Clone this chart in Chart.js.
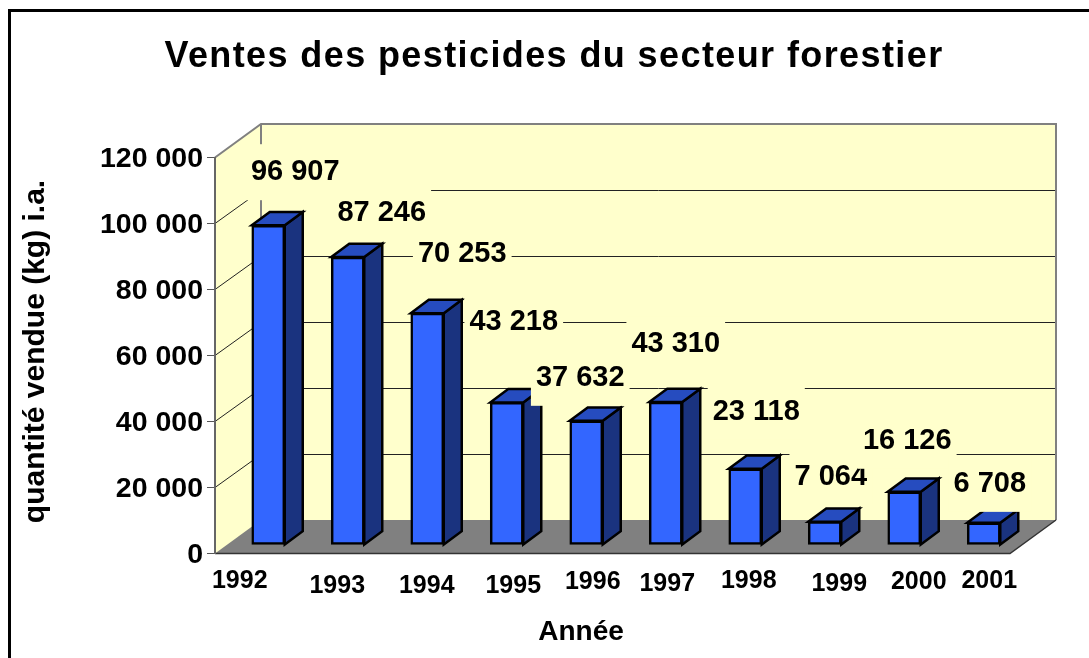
<!DOCTYPE html>
<html>
<head>
<meta charset="utf-8">
<style>
  html, body { margin: 0; padding: 0; background: #fff; }
  canvas { display: block; }
</style>
<script src="https://cdn.jsdelivr.net/npm/chart.js@4/dist/chart.umd.min.js"></script>
</head>
<body>
<canvas id="ventesChart" width="1089" height="658"></canvas>
<script>
    // ===================================
    // DATA
    // ===================================
    const annees = ['1992', '1993', '1994', '1995', '1996', '1997', '1998', '1999', '2000', '2001'];
    const quantites = [96907, 87246, 70253, 43218, 37632, 43310, 23118, 7064, 16126, 6708];
    const titre = 'Ventes des pesticides du secteur forestier';
    const titreY = 'quantité vendue (kg) i.a.';
    const titreX = 'Année';

    // ===================================
    // LAYOUT (hand placed labels, relative to bar / tick)
    // ===================================
    const valeurDx = [27, 34, 35, 7, -6, 10, 11, 6, 3, 6];
    const valeurDy = [-53, -44, -59, -80, -43, -58, -57, -45, -51, -39];
    const anneeDx = [-15, 3, 13, 20, 20, 15, 17, 28, 28, 19];
    const anneeDy = [28, 33, 33, 33, 29, 31, 28, 31, 29, 28];

    const wallColor = '#ffffcc';
    const floorColor = '#808080';
    const depth = { x: 46, y: -33.5 };   // back wall offset
    const barShift = { x: 13.5, y: -8.5 }; // bars stand in the middle of the floor
    const barDepth = { x: 18, y: -13.3 };

    const fmt = v => String(v).replace(/\B(?=(\d{3})+$)/g, ' ');

    // --- walls, floor and gridlines, drawn behind the axes ---
    const wallsPlugin = {
        id: 'walls',
        beforeDraw(chart) {
            const { ctx, chartArea: a, scales: { y } } = chart;
            const bx = a.left + depth.x, rx = a.right + depth.x;
            const dy = depth.y;
            ctx.save();

            // outer frame, only top and left are in the picture
            ctx.fillStyle = '#000';
            ctx.fillRect(8, 9, 1081, 3);
            ctx.fillRect(8, 9, 3, 649);

            ctx.fillStyle = wallColor;
            ctx.beginPath();
            ctx.moveTo(a.left, a.top);
            ctx.lineTo(bx, a.top + dy);
            ctx.lineTo(rx, a.top + dy);
            ctx.lineTo(rx, a.bottom + dy);
            ctx.lineTo(a.left, a.bottom);
            ctx.closePath();
            ctx.fill();

            ctx.fillStyle = floorColor;
            ctx.beginPath();
            ctx.moveTo(a.left, a.bottom);
            ctx.lineTo(bx, a.bottom + dy);
            ctx.lineTo(rx, a.bottom + dy);
            ctx.lineTo(a.right, a.bottom);
            ctx.closePath();
            ctx.fill();

            // gridlines
            ctx.lineWidth = 1;
            ctx.strokeStyle = '#222';
            y.ticks.forEach(t => {
                if (t.value === 0 || t.value === y.max) return;
                const py = y.getPixelForValue(t.value);
                const backY = Math.round(py + dy) + 0.5;
                ctx.beginPath();
                ctx.moveTo(a.left, py);
                ctx.lineTo(bx, backY);
                ctx.lineTo(rx, backY);
                ctx.stroke();
            });

            // wall outline
            ctx.strokeStyle = floorColor;
            ctx.lineWidth = 2;
            ctx.beginPath();
            ctx.moveTo(a.left, a.top);
            ctx.lineTo(bx, a.top + dy);
            ctx.lineTo(rx, a.top + dy);
            ctx.lineTo(rx, a.bottom + dy);
            ctx.moveTo(bx, a.top + dy);
            ctx.lineTo(bx, a.bottom + dy);
            ctx.stroke();

            // front and right edge of the floor
            ctx.strokeStyle = '#333';
            ctx.lineWidth = 1.5;
            ctx.beginPath();
            ctx.moveTo(rx, a.bottom + dy);
            ctx.lineTo(a.right, a.bottom);
            ctx.lineTo(a.left, a.bottom);
            ctx.stroke();
            ctx.restore();
        }
    };

    // --- 3D faces for the bars + value labels with their opaque boxes ---
    const bars3dPlugin = {
        id: 'bars3d',
        beforeDatasetsDraw(chart) {
            chart.ctx.save();
            chart.ctx.translate(barShift.x, barShift.y);
        },
        afterDatasetsDraw(chart) {
            const ctx = chart.ctx;
            const bars = chart.getDatasetMeta(0).data;
            ctx.lineWidth = 2.5;
            ctx.lineJoin = 'miter';
            ctx.strokeStyle = '#000';
            bars.forEach(b => {
                const l = b.x - b.width / 2, r = b.x + b.width / 2;
                // side
                ctx.fillStyle = '#1a337f';
                ctx.beginPath();
                ctx.moveTo(r, b.y);
                ctx.lineTo(r + barDepth.x, b.y + barDepth.y);
                ctx.lineTo(r + barDepth.x, b.base + barDepth.y);
                ctx.lineTo(r, b.base);
                ctx.closePath();
                ctx.fill();
                ctx.stroke();
                // top
                ctx.fillStyle = '#264cbf';
                ctx.beginPath();
                ctx.moveTo(l, b.y);
                ctx.lineTo(l + barDepth.x, b.y + barDepth.y);
                ctx.lineTo(r + barDepth.x, b.y + barDepth.y);
                ctx.lineTo(r, b.y);
                ctx.closePath();
                ctx.fill();
                ctx.stroke();
            });
            ctx.restore();

            // value labels, each one hides what lies behind it
            ctx.save();
            ctx.font = 'bold 29px "Liberation Sans"';
            ctx.textAlign = 'center';
            ctx.textBaseline = 'middle';
            bars.forEach((b, i) => {
                const txt = fmt(quantites[i]);
                const cx = b.x + barShift.x + valeurDx[i];
                const cy = b.y + barShift.y + valeurDy[i];
                const w = ctx.measureText(txt).width + 10;
                ctx.fillStyle = wallColor;
                ctx.fillRect(cx - w / 2, cy - 28, w, 56);
                ctx.fillStyle = '#000';
                ctx.fillText(txt, cx, cy);
            });
            ctx.restore();
        },
        afterDraw(chart) {
            const { ctx, scales: { x }, chartArea: a } = chart;
            ctx.save();
            ctx.fillStyle = '#000';
            ctx.textAlign = 'center';
            ctx.textBaseline = 'middle';
            ctx.font = 'bold 25px "Liberation Sans"';
            annees.forEach((an, i) => {
                ctx.fillText(an, x.getPixelForValue(i) + anneeDx[i], a.bottom + anneeDy[i]);
            });
            ctx.font = 'bold 28px "Liberation Sans"';
            ctx.fillText(titreX, 581, 632);
            // main title: the reference is tracked out a little
            ctx.save();
            ctx.font = 'bold 36px "Liberation Sans"';
            ctx.letterSpacing = '1.4px';
            ctx.textBaseline = 'alphabetic';
            ctx.fillText(titre, 554, 67);
            ctx.restore();
            // y axis title
            ctx.translate(36, 351.5);
            ctx.rotate(-Math.PI / 2);
            ctx.font = 'bold 30px "Liberation Sans"';
            ctx.fillText(titreY, 0, 0);
            ctx.restore();
        }
    };

    // ===================================
    // CHART CONFIG
    // ===================================
    Chart.defaults.font.family = '"Liberation Sans", Arial, sans-serif';
    Chart.defaults.color = '#000';

    const ventesConfig = {
        type: 'bar',
        data: {
            labels: annees,
            datasets: [{
                label: titreY,
                data: quantites,
                backgroundColor: '#3366ff',
                borderColor: '#000',
                borderWidth: 2.5,
                borderSkipped: false,
                barThickness: 33,
                clip: false
            }]
        },
        plugins: [wallsPlugin, bars3dPlugin],
        options: {
            responsive: false,
            animation: false,
            layout: { padding: { right: 79, top: 157.5, left: 0, bottom: 0 } },
            plugins: {
                legend: { display: false },
                tooltip: { enabled: false },
                title: { display: false }
            },
            scales: {
                x: {
                    afterFit(s) { s.height = 104.5; },
                    grid: { display: false },
                    border: { display: false },
                    ticks: { display: false }
                },
                y: {
                    min: 0,
                    max: 120000,
                    afterFit(s) { s.width = 215; },
                    grid: { drawOnChartArea: false, tickLength: 8, tickColor: '#555', lineWidth: 1 },
                    border: { color: '#666', width: 2 },
                    ticks: {
                        stepSize: 20000,
                        padding: 4,
                        labelOffset: 1.5,
                        font: { size: 28.5, weight: 'bold' },
                        callback: v => fmt(v)
                    }
                }
            }
        }
    };

    // --- Render Chart ---
    const ctxVentes = document.getElementById('ventesChart').getContext('2d');
    new Chart(ctxVentes, ventesConfig);
</script>
</body>
</html>
